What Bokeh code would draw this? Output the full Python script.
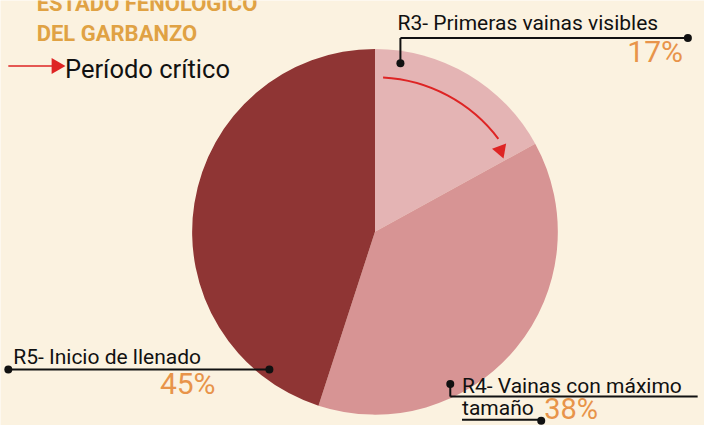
import math
from bokeh.plotting import figure
from bokeh.models import Range1d, ColumnDataSource
from bokeh.core.properties import value
from bokeh.embed import file_html
from bokeh.resources import INLINE

# ---- data ----
stages = ["R3- Primeras vainas visibles", "R4- Vainas con máximo tamaño", "R5- Inicio de llenado"]
shares = [17, 38, 45]
pct_labels = ["17%", "38%", "45%"]
colors = ["#e4b4b4", "#d79494", "#8f3534"]

BG = "#fbf2e0"
ORANGE = "#e8944a"
TITLE_C = "#e0a244"
RED = "#de2424"
W, H = 704, 425
RW, RH = 720, 441           # layout frame (reference pixel grid)
SY = H / RH

p = figure(width=W, height=H, output_backend="svg", toolbar_location=None,
           x_range=Range1d(0, RW), y_range=Range1d(0, RH))
p.axis.visible = False
p.grid.visible = False
p.outline_line_color = None
p.min_border = 0
p.background_fill_color = BG
p.border_fill_color = BG


def Y(py):
    return RH - py


def TY(py, fs):
    # baseline position with a small correction for the renderer's text placement
    return RH - py + 0.32 * fs / SY


# pie geometry
cx, cy, r = 383, Y(240), 187
total = sum(shares)
starts, ends = [], []
a = math.pi / 2
for s in shares:
    starts.append(a)
    a = a - 2 * math.pi * s / total
    ends.append(a)
src = ColumnDataSource(dict(start=starts, end=ends, color=colors, stage=stages))
p.wedge(x=cx, y=cy, radius=r, start_angle="start", end_angle="end",
        direction="clock", fill_color="color", line_color=None, source=src)

# critical-period arrow on pie
a0, a1, ra = math.radians(87), math.radians(37), 158
p.arc(x=cx, y=cy, radius=ra, start_angle=a0, end_angle=a1, direction="clock",
      line_color=RED, line_width=2)
ah = math.radians(35)
tip_dir = ah - math.pi / 2 - math.radians(15)
p.scatter(x=[cx + ra * math.cos(ah) - 1], y=[cy + ra * math.sin(ah) - 6], marker="triangle",
          size=15, angle=tip_dir - math.pi / 2, fill_color=RED, line_color=None)

# legend arrow "Período crítico"
p.segment(x0=8, y0=Y(68), x1=54, y1=Y(68), line_color=RED, line_width=1.5)
p.scatter(x=[57], y=[Y(68)], marker="triangle", size=16, angle=-math.pi / 2,
          fill_color=RED, line_color=None)

F = value("Roboto")
# title
p.text(x=[37, 37], y=[TY(10, 22), TY(42, 22)], text=["ESTADO FENOLÓGICO", "DEL GARBANZO"],
       text_font=F, text_font_style="bold", text_font_size="22px",
       text_color=TITLE_C, text_baseline="alphabetic")
p.text(x=[66], y=[TY(80, 25.5)], text=["Período crítico"], text_font=F,
       text_font_size="25.5px", text_color="#111111", text_baseline="alphabetic")

# leader lines
LC = "#111111"
p.segment(x0=[409, 409, 8, 460, 460, 472],
          y0=[Y(39), Y(39), Y(383), Y(398), Y(411), Y(435)],
          x1=[703, 409, 275, 460, 713, 553],
          y1=[Y(39), Y(65), Y(383), Y(411), Y(411), Y(435)],
          line_color=LC, line_width=2)
p.scatter(x=[703, 409, 8, 275, 460, 553],
          y=[Y(39), Y(65), Y(383), Y(383), Y(398), Y(436)],
          size=8, fill_color=LC, line_color=None)

# stage labels
r4a, r4b = stages[1].rsplit(" ", 1)
p.text(x=[406, 13, 472, 472], y=[TY(30, 21), TY(377, 21), TY(407, 21), TY(430, 21)],
       text=[stages[0], stages[2], r4a, r4b], text_font=F, text_font_size="21px",
       text_color="#111111", text_baseline="alphabetic")

# percentages
p.text(x=[698], y=[TY(63, 30)], text=[pct_labels[0]], text_font=F, text_font_size="30px",
       text_color=ORANGE, text_baseline="alphabetic", text_align="right")
p.text(x=[163], y=[TY(407, 30)], text=[pct_labels[2]],
       text_font=F, text_font_size="30px", text_color=ORANGE, text_baseline="alphabetic")
p.text(x=[556], y=[TY(433, 29)], text=[pct_labels[1]],
       text_font=F, text_font_size="29px", text_color=ORANGE, text_baseline="alphabetic")

html = file_html(p, INLINE)
html = html.replace("<body>", '<body style="background:%s">' % BG, 1)
open("out.html", "w").write(html)
